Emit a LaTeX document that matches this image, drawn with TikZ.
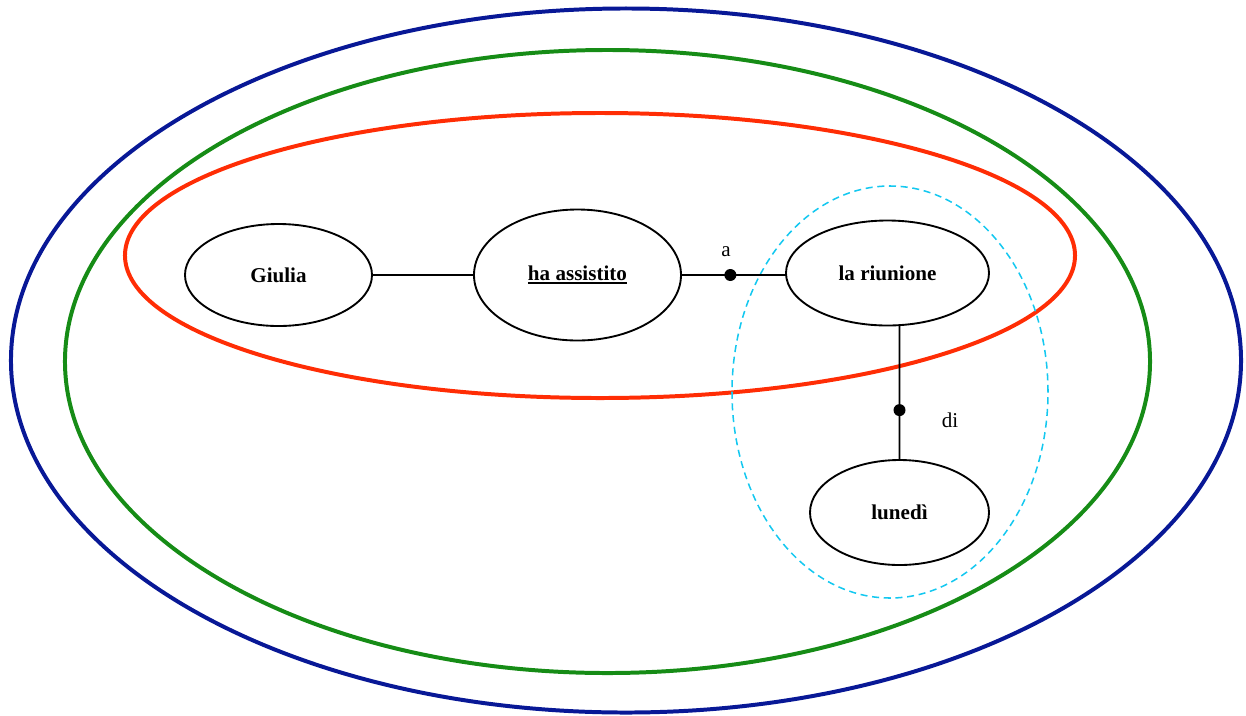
\documentclass[tikz,border=0pt]{standalone}
\usepackage{fontspec}
\setmainfont{Liberation Serif}
\usetikzlibrary{shapes.geometric}
\definecolor{cBlue}{RGB}{8,24,150}
\definecolor{cGreen}{RGB}{22,140,22}
\definecolor{cRed}{RGB}{255,45,5}
\definecolor{cCyan}{RGB}{20,200,240}
\newcommand{\thickul}[1]{\setbox0\hbox{#1}\leavevmode\rlap{\rule[-3.2pt]{\wd0}{1.6pt}}\box0}
\tikzset{
  ent/.style={ellipse, draw=black, line width=1.6pt, fill=white, inner sep=0pt, outer sep=0pt,
    font=\fontsize{18}{22}\selectfont\bfseries},
  dot/.style={circle, fill=black, inner sep=0pt, minimum size=0.36cm},
  lbl/.style={font=\fontsize{18}{22}\selectfont},
  conn/.style={line width=1.6pt},
}
\begin{document}
\begin{tikzpicture}[x=0.03cm,y=-0.03cm]
\useasboundingbox (0,0) rectangle (1246,715);
\draw[cBlue, line width=3.4pt] (626,360.5) ellipse [x radius=18.45cm, y radius=10.56cm];
\draw[cGreen, line width=3.4pt] (607.5,361.5) ellipse [x radius=16.275cm, y radius=9.345cm];
\draw[cRed, line width=3.4pt] (600,255.5) ellipse [x radius=14.25cm, y radius=4.275cm];
\draw[cCyan, line width=1.3pt, dash pattern=on 6pt off 4pt] (890,392) ellipse [x radius=4.74cm, y radius=6.18cm];

\node[ent, minimum width=5.61cm, minimum height=3.06cm] (g) at (278.5,275) {Giulia};
\node[ent, minimum width=6.21cm, minimum height=3.93cm] (h) at (577.5,275) {\thickul{ha assistito}};
\node[ent, minimum width=6.09cm, minimum height=3.15cm] (r) at (887.5,273) {la riunione};
\node[ent, minimum width=5.37cm, minimum height=3.15cm] (l) at (899.5,512.5) {lunedì};

\draw[conn] (g.east) -- (h.west);
\draw[conn] (h.east) -- node[dot, pos=0.47] (da) {} (h.east -| r.west);
\draw[conn] (r.-77) -- node[dot, pos=0.63] (dd) {} (l.north);
\node[lbl] (la) at (726,252) {a};
\node[lbl] (ld) at (950,420) {di};
\end{tikzpicture}
\end{document}
